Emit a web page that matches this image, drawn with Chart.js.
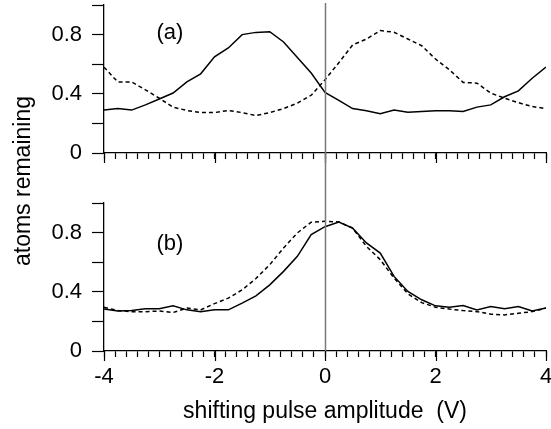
<!DOCTYPE html>
<html>
<head>
<meta charset="utf-8">
<script src="https://cdn.jsdelivr.net/npm/chart.js@4.4.0/dist/chart.umd.min.js"></script>
<style>
  html, body { margin: 0; padding: 0; background: #fff; }
  #wrap { position: relative; width: 551px; height: 429px; }
  #wrap canvas { position: absolute; left: 0; top: 0; }
</style>
</head>
<body>
<div id="wrap">
  <canvas id="chartA" width="551" height="429"></canvas>
  <canvas id="chartB" width="551" height="429"></canvas>
</div>
<script>
// pulse amplitude (V)
const voltages = [-4, -3.75, -3.5, -3.25, -3, -2.75, -2.5, -2.25, -2, -1.75, -1.5, -1.25, -1,
  -0.75, -0.5, -0.25, 0, 0.25, 0.5, 0.75, 1, 1.25, 1.5, 1.75, 2, 2.25, 2.5, 2.75, 3,
  3.25, 3.5, 3.75, 4];

// panel (a)
const aSolid = [0.29, 0.30, 0.29, 0.325, 0.365, 0.405, 0.48, 0.535, 0.65, 0.71, 0.80, 0.815, 0.82,
  0.75, 0.645, 0.54, 0.41, 0.355, 0.30, 0.285, 0.265, 0.29, 0.275, 0.28, 0.285, 0.285, 0.28,
  0.31, 0.325, 0.38, 0.42, 0.505, 0.58];
const aDashed = [0.58, 0.48, 0.48, 0.427, 0.37, 0.31, 0.287, 0.273, 0.273, 0.287, 0.273, 0.253, 0.273,
  0.30, 0.337, 0.39, 0.495, 0.61, 0.73, 0.77, 0.827, 0.816, 0.77, 0.725, 0.635, 0.563, 0.477,
  0.472, 0.405, 0.37, 0.34, 0.314, 0.30];

// panel (b)
const bSolid = [0.283, 0.27, 0.273, 0.285, 0.285, 0.305, 0.278, 0.266, 0.278, 0.278, 0.323, 0.373, 0.447,
  0.538, 0.64, 0.786, 0.84, 0.872, 0.83, 0.73, 0.662, 0.504, 0.402, 0.346, 0.305, 0.296, 0.307,
  0.278, 0.30, 0.285, 0.30, 0.27, 0.29];
const bDashed = [0.296, 0.273, 0.266, 0.266, 0.27, 0.26, 0.29, 0.278, 0.32, 0.357, 0.413, 0.49, 0.583,
  0.696, 0.798, 0.87, 0.877, 0.872, 0.83, 0.707, 0.617, 0.493, 0.386, 0.327, 0.296, 0.283, 0.273,
  0.266, 0.249, 0.244, 0.255, 0.266, 0.29];

const yTickLabels = ['0', '0.4', '0.8'];
const xTickLabels = ['-4', '-2', '0', '2', '4'];
const xMajorTicks = [-4, -2, 0, 2, 4];
const panelLabels = ['(a)', '(b)'];
const yTitle = 'atoms remaining';
const xTitle = 'shifting pulse amplitude  (V)';

const FONT = "'Liberation Sans', Arial, Helvetica, sans-serif";
const tickFont = { family: FONT, size: 22 };

function pts(ys) {
  return voltages.map((v, i) => ({ x: v, y: ys[i] }));
}

function lineSets(solid, dashed) {
  return [
    { data: pts(solid), borderColor: '#000', borderWidth: 1.5, pointRadius: 0, tension: 0, fill: false },
    { data: pts(dashed), borderColor: '#000', borderWidth: 1.5, borderDash: [4, 3], pointRadius: 0, tension: 0, fill: false }
  ];
}

function makeScales(bottomPanel) {
  return {
    x: {
      type: 'linear', min: -4, max: 4,
      ticks: {
        stepSize: 0.2, autoSkip: false, maxRotation: 0, minRotation: 0,
        display: bottomPanel, padding: 7, color: '#000', font: tickFont,
        callback: v => {
          const s = String(Math.round(v * 10) / 10);
          return xTickLabels.includes(s) ? s : '';
        }
      },
      grid: { drawOnChartArea: false, tickLength: 6, tickColor: '#000', tickWidth: 1.2 },
      border: { color: '#000', width: 1.3 },
      title: {
        display: bottomPanel, text: xTitle, color: '#000',
        font: { family: FONT, size: 23 }, padding: { top: 0, bottom: 4 }
      },
      afterFit: s => {
        s.height = bottomPanel ? 78 : 12;
        s.paddingLeft = 0; s.paddingRight = 0;
      }
    },
    y: {
      type: 'linear', min: 0, max: 1,
      ticks: {
        stepSize: 0.2, padding: 10, color: '#000', font: tickFont,
        callback: v => {
          const s = String(Math.round(v * 10) / 10);
          return yTickLabels.includes(s) ? s : '';
        }
      },
      grid: { drawOnChartArea: false, tickLength: 12, tickColor: '#000', tickWidth: 1.2 },
      border: { color: '#000', width: 1.3 },
      afterFit: s => {
        s.width = 104;
        s.paddingTop = 0; s.paddingBottom = 0;
      }
    }
  };
}

// longer tick marks at the labelled x values + panel letter
function panelDecor(label, labelPos) {
  return {
    id: 'panelDecor',
    afterDraw(chart) {
      const { ctx, chartArea, scales } = chart;
      ctx.save();
      ctx.strokeStyle = '#000';
      ctx.lineWidth = 1.2;
      xMajorTicks.forEach(v => {
        const px = Math.round(scales.x.getPixelForValue(v)) + 0.5;
        ctx.beginPath();
        ctx.moveTo(px, chartArea.bottom);
        ctx.lineTo(px, chartArea.bottom + 10);
        ctx.stroke();
      });
      ctx.fillStyle = '#000';
      ctx.font = '22px ' + FONT;
      ctx.textAlign = 'left';
      ctx.textBaseline = 'middle';
      ctx.fillText(label, scales.x.getPixelForValue(labelPos[0]), scales.y.getPixelForValue(labelPos[1]));
      ctx.restore();
    }
  };
}

let chartA = null;

const zeroLine = {
  id: 'zeroLine',
  afterDraw(chart) {
    const { ctx, chartArea, scales } = chart;
    const px = Math.round(scales.x.getPixelForValue(0)) + 0.5;
    const top = chartA ? chartA.chartArea.top - 2 : 3;
    ctx.save();
    ctx.strokeStyle = '#7a7a7a';
    ctx.lineWidth = 1.5;
    ctx.beginPath();
    ctx.moveTo(px, top);
    ctx.lineTo(px, chartArea.bottom);
    ctx.stroke();
    // shared y-axis title
    ctx.fillStyle = '#000';
    ctx.font = '23px ' + FONT;
    ctx.textAlign = 'center';
    ctx.textBaseline = 'middle';
    ctx.translate(24, 181);
    ctx.rotate(-Math.PI / 2);
    ctx.fillText(yTitle, 0, 0);
    ctx.restore();
  }
};

const common = {
  responsive: false,
  animation: false,
  plugins: { legend: { display: false }, tooltip: { enabled: false } }
};

chartA = new Chart(document.getElementById('chartA'), {
  type: 'line',
  data: { datasets: lineSets(aSolid, aDashed) },
  options: Object.assign({}, common, {
    layout: { padding: { top: 5, right: 5, bottom: 264, left: 0 } },
    scales: makeScales(false)
  }),
  plugins: [panelDecor(panelLabels[0], [-3.05, 0.81])]
});

new Chart(document.getElementById('chartB'), {
  type: 'line',
  data: { datasets: lineSets(bSolid, bDashed) },
  options: Object.assign({}, common, {
    layout: { padding: { top: 203, right: 5, bottom: 0, left: 0 } },
    scales: makeScales(true)
  }),
  plugins: [panelDecor(panelLabels[1], [-3.05, 0.725]), zeroLine]
});
</script>
</body>
</html>
